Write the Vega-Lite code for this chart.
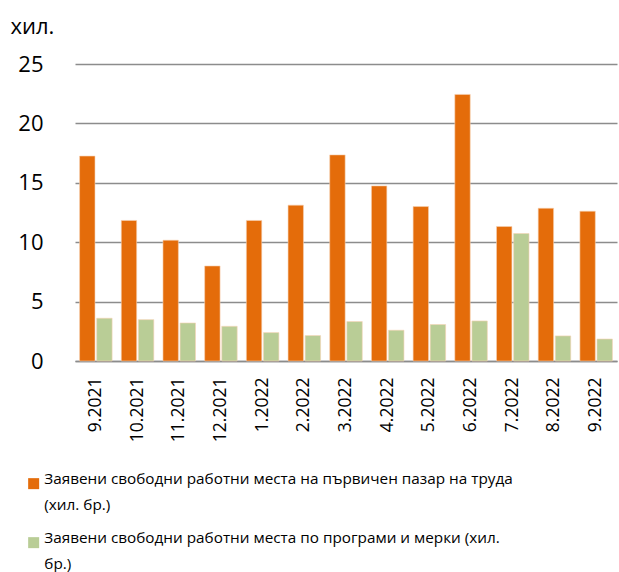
{
  "$schema": "https://vega.github.io/schema/vega-lite/v6.json",
  "width": 542,
  "height": 297,
  "autosize": {"type": "none"},
  "padding": {"left": 75, "top": 64, "right": 2, "bottom": 211},
  "background": "white",
  "config": {
    "font": "Open Sans",
    "view": {"stroke": null},
    "style": {"guide-label": {"lineHeight": 26}}
  },
  "data": {
    "values": [
      {"month": "9.2021", "series": "Заявени свободни работни места на първичен пазар на труда (хил. бр.)", "value": 17.25},
      {"month": "10.2021", "series": "Заявени свободни работни места на първичен пазар на труда (хил. бр.)", "value": 11.83},
      {"month": "11.2021", "series": "Заявени свободни работни места на първичен пазар на труда (хил. бр.)", "value": 10.17},
      {"month": "12.2021", "series": "Заявени свободни работни места на първичен пазар на труда (хил. бр.)", "value": 8.0},
      {"month": "1.2022", "series": "Заявени свободни работни места на първичен пазар на труда (хил. бр.)", "value": 11.83},
      {"month": "2.2022", "series": "Заявени свободни работни места на първичен пазар на труда (хил. бр.)", "value": 13.12},
      {"month": "3.2022", "series": "Заявени свободни работни места на първичен пазар на труда (хил. бр.)", "value": 17.35},
      {"month": "4.2022", "series": "Заявени свободни работни места на първичен пазар на труда (хил. бр.)", "value": 14.74},
      {"month": "5.2022", "series": "Заявени свободни работни места на първичен пазар на труда (хил. бр.)", "value": 13.0},
      {"month": "6.2022", "series": "Заявени свободни работни места на първичен пазар на труда (хил. бр.)", "value": 22.44},
      {"month": "7.2022", "series": "Заявени свободни работни места на първичен пазар на труда (хил. бр.)", "value": 11.32},
      {"month": "8.2022", "series": "Заявени свободни работни места на първичен пазар на труда (хил. бр.)", "value": 12.86},
      {"month": "9.2022", "series": "Заявени свободни работни места на първичен пазар на труда (хил. бр.)", "value": 12.61},
      {"month": "9.2021", "series": "Заявени свободни работни места по програми и мерки  (хил. бр.)", "value": 3.6},
      {"month": "10.2021", "series": "Заявени свободни работни места по програми и мерки  (хил. бр.)", "value": 3.48},
      {"month": "11.2021", "series": "Заявени свободни работни места по програми и мерки  (хил. бр.)", "value": 3.2},
      {"month": "12.2021", "series": "Заявени свободни работни места по програми и мерки  (хил. бр.)", "value": 2.92},
      {"month": "1.2022", "series": "Заявени свободни работни места по програми и мерки  (хил. бр.)", "value": 2.39},
      {"month": "2.2022", "series": "Заявени свободни работни места по програми и мерки  (хил. бр.)", "value": 2.14},
      {"month": "3.2022", "series": "Заявени свободни работни места по програми и мерки  (хил. бр.)", "value": 3.32},
      {"month": "4.2022", "series": "Заявени свободни работни места по програми и мерки  (хил. бр.)", "value": 2.59},
      {"month": "5.2022", "series": "Заявени свободни работни места по програми и мерки  (хил. бр.)", "value": 3.07},
      {"month": "6.2022", "series": "Заявени свободни работни места по програми и мерки  (хил. бр.)", "value": 3.37},
      {"month": "7.2022", "series": "Заявени свободни работни места по програми и мерки  (хил. бр.)", "value": 10.73},
      {"month": "8.2022", "series": "Заявени свободни работни места по програми и мерки  (хил. бр.)", "value": 2.11},
      {"month": "9.2022", "series": "Заявени свободни работни места по програми и мерки  (хил. бр.)", "value": 1.85}
    ]
  },
  "mark": {"type": "bar", "stroke": "#f6d2b4", "strokeWidth": 0.6},
  "encoding": {
    "x": {
      "field": "month",
      "type": "nominal",
      "sort": null,
      "scale": {"paddingInner": 0.22, "paddingOuter": 0.11},
      "axis": {
        "title": null,
        "labelAngle": -90,
        "labelAlign": "right",
        "labelBaseline": "middle",
        "labelFontSize": 17.5,
        "labelColor": "#000000",
        "labelPadding": 16,
        "ticks": false,
        "domainColor": "#8c8c8c",
        "domainWidth": 1.5
      }
    },
    "xOffset": {
      "field": "series",
      "type": "nominal",
      "scale": {"paddingInner": 0.1, "paddingOuter": 0}
    },
    "y": {
      "field": "value",
      "type": "quantitative",
      "scale": {"domain": [0, 25], "nice": false},
      "axis": {
        "values": [0, 5, 10, 15, 20, 25],
        "title": "хил.",
        "titleAngle": 0,
        "titleAlign": "left",
        "titleBaseline": "alphabetic",
        "titleX": -65,
        "titleY": -31,
        "titleFontSize": 22,
        "titleFontWeight": "normal",
        "titleColor": "#000000",
        "labelFontSize": 22,
        "labelColor": "#000000",
        "labelPadding": 32,
        "ticks": false,
        "domain": false,
        "gridColor": "#8c8c8c",
        "gridWidth": 1.5
      }
    },
    "color": {
      "field": "series",
      "type": "nominal",
      "scale": {"range": ["#e46c0a", "#b9cd96"]},
      "legend": {
        "title": null,
        "orient": "none",
        "legendX": -49,
        "legendY": 412,
        "direction": "vertical",
        "symbolType": "square",
        "symbolSize": 121,
        "symbolStrokeWidth": 0,
        "labelFontSize": 15.3,
        "labelColor": "#000000",
        "labelLimit": 600,
        "labelOffset": 3,
        "labelBaseline": "alphabetic",
        "rowPadding": 17,
        "labelExpr": "indexof(datum.label, 'първичен') >= 0 ? ['Заявени свободни работни места на първичен пазар на труда', '(хил. бр.)'] : ['Заявени свободни работни места по програми и мерки  (хил.', 'бр.)']"
      }
    }
  }
}
